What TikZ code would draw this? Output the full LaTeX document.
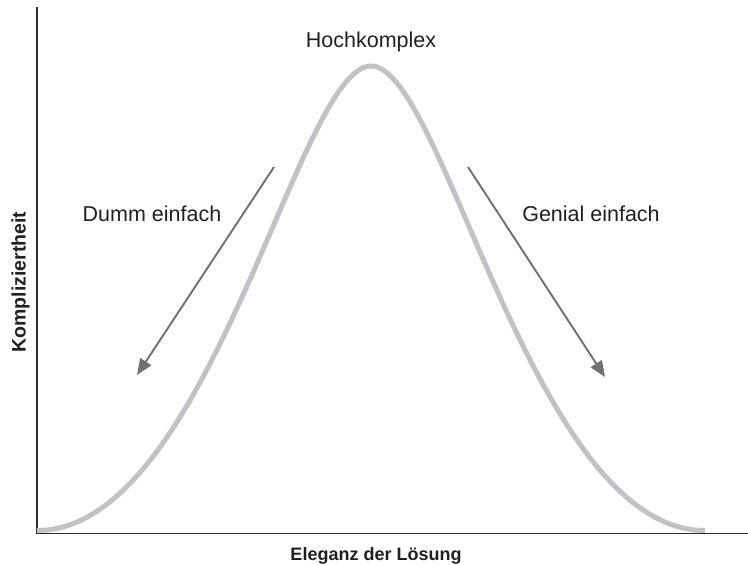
\documentclass[tikz,border=0pt]{standalone}
\usepackage{fontspec}
\setmainfont{Liberation Sans}
\usepackage{tikz}
\usetikzlibrary{arrows.meta,positioning,calc}
\definecolor{kurvegrau}{RGB}{193,194,197}
\definecolor{pfeilgrau}{RGB}{112,112,114}
\definecolor{achsegrau}{RGB}{45,45,45}
\definecolor{textschwarz}{RGB}{35,31,32}

\begin{document}
\begin{tikzpicture}[x=1bp,y=-1bp,
  label/.style={font=\fontsize{21.5bp}{26bp}\selectfont,text=textschwarz,inner sep=0pt,anchor=base},
  axislabel/.style={font=\fontsize{18bp}{22bp}\selectfont\bfseries,text=textschwarz,inner sep=0pt,anchor=base},
  trend/.style={pfeilgrau,line width=1.9bp,-{Triangle[length=16bp,width=13bp]}}]
\useasboundingbox (0,0) rectangle (748,565);
% axes
\coordinate (top) at (37,7);
\coordinate (O) at (37,533.5);
\coordinate (right) at (748,533.5);
\draw[achsegrau,line width=1.3bp] (top) -- (O) -- (right);
% bell curve
\coordinate (L) at (37,530.5);
\coordinate (peak) at (371,66);
\coordinate (R) at (705,530.5);
\draw[kurvegrau,line width=5bp]
  (L) ..controls (210,530.5) and (298,66).. (peak)
  ..controls (444,66) and (532,530.5).. (R);
% trend arrows
\coordinate (dummA) at (274,167);
\coordinate (dummB) at (137,375);
\coordinate (genialA) at (468,167);
\coordinate (genialB) at (605,377);
\draw[trend] (dummA) -- (dummB);
\draw[trend] (genialA) -- (genialB);
% labels
\node[label] (hoch) at (371,48) {Hochkomplex};
\node[label] (dumm) at (152,221.5) {Dumm einfach};
\node[label] (genial) at (591,221.5) {Genial einfach};
\node[axislabel] (xlab) at (376,560) {Eleganz der Lösung};
\node[axislabel,rotate=90,font=\fontsize{19.5bp}{22bp}\selectfont\bfseries] (ylab) at (25.5,282) {Kompliziertheit};
\end{tikzpicture}
\end{document}
